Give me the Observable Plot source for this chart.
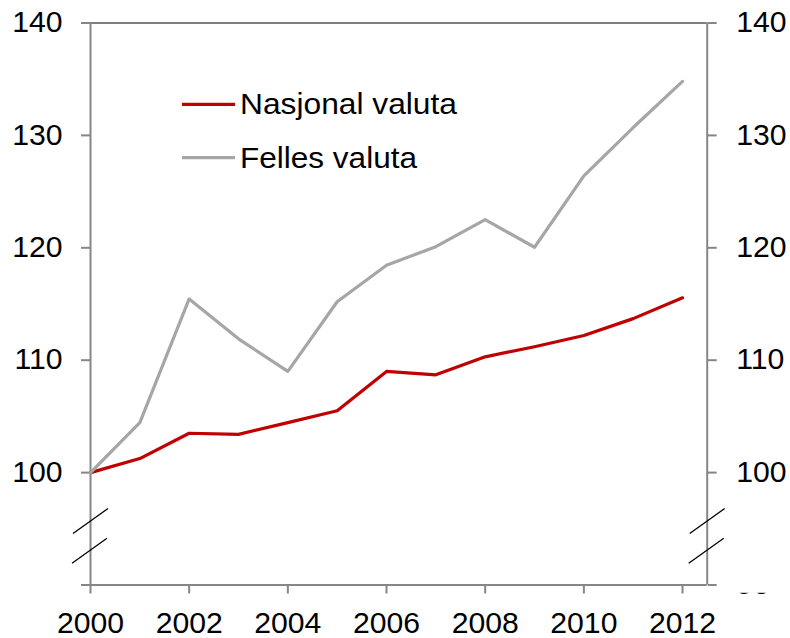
<!DOCTYPE html>
<html><head><meta charset="utf-8">
<script src="https://cdn.jsdelivr.net/npm/d3@7"></script>
<script src="https://cdn.jsdelivr.net/npm/@observablehq/plot@0.6"></script>
<style>
body{margin:0;background:#fff}
#chart svg{font-family:"Liberation Sans",Arial,sans-serif}
</style>
</head><body><div id="chart"></div>
<script>
const years = [2000,2001,2002,2003,2004,2005,2006,2007,2008,2009,2010,2011,2012];
const nasjonal = [100,101.25,103.5,103.4,104.45,105.5,109.0,108.7,110.3,111.2,112.2,113.7,115.55];
const felles = [100,104.45,115.45,111.9,109.0,115.2,118.45,120.1,122.5,120.05,126.4,130.7,134.8];
const seriesNames = ["Nasjonal valuta","Felles valuta"];
const seriesColors = ["#C00000","#A6A6A6"];
const yTicks = [90,100,110,120,130,140];
const xTicks = [2000,2002,2004,2006,2008,2010,2012];
const xDomain = [2000,2012.5];
const yDomain = [90,140];

const data = years.flatMap((yr,i)=>[
  {year:yr,value:nasjonal[i],series:seriesNames[0]},
  {year:yr,value:felles[i],series:seriesNames[1]}
]);

const axisColor = "#868686";
const fs = 29;

const plot = Plot.plot({
  width:790,height:638,
  marginLeft:90,marginRight:83.3,marginTop:22.5,marginBottom:53.5,
  style:{fontFamily:'"Liberation Sans",Arial,sans-serif',fontSize:fs+"px",background:"white",overflow:"visible"},
  x:{domain:xDomain},
  y:{domain:yDomain},
  color:{domain:seriesNames,range:seriesColors},
  marks:[
    Plot.ruleY([yDomain[1]],{stroke:"black",strokeWidth:1}),
    Plot.ruleY([yDomain[0]],{stroke:axisColor,strokeWidth:2}),
    Plot.ruleX(xDomain,{stroke:axisColor,strokeWidth:2}),
    Plot.axisY({anchor:"left",ticks:yTicks,tickSize:9,tickPadding:19,strokeWidth:2,stroke:axisColor,fill:"black",fontSize:fs,
      tickFormat:d=>d===90?"":String(d),label:null}),
    Plot.axisY({anchor:"right",ticks:yTicks,tickSize:9,tickPadding:20,strokeWidth:2,stroke:axisColor,fill:"black",fontSize:fs,
      tickFormat:d=>String(d),label:null}),
    Plot.axisX({anchor:"bottom",ticks:xTicks,tickSize:9,tickPadding:18,strokeWidth:2,stroke:axisColor,fill:"black",fontSize:fs,
      tickFormat:d=>String(d),label:null}),
    Plot.line(data,{x:"year",y:"value",z:"series",stroke:"series",strokeWidth:3.2})
  ]
});

document.getElementById("chart").appendChild(plot);

const svg = d3.select(plot);
const xs = plot.scale("x"), ys = plot.scale("y");
const xL = xs.apply(xDomain[0]), xR = xs.apply(xDomain[1]);
const yBottom = ys.apply(yDomain[0]);

// slight horizontal stretch on axis labels
svg.selectAll("g[aria-label='y-axis tick label'] text, g[aria-label='x-axis tick label'] text").each(function(){
  const len = this.getComputedTextLength();
  if (len>0){ this.setAttribute("textLength", len*1.04); this.setAttribute("lengthAdjust","spacingAndGlyphs"); }
});

// mask partly hiding right "90" label
svg.append("rect").attr("x",xR+12).attr("y",yBottom-30).attr("width",80).attr("height",38.3).attr("fill","white");

// axis break marks
[xL, xR].forEach(ax=>{
  [[95.65,0],[93.0,-1]].forEach(([v,dx])=>{
    const cy = ys.apply(v);
    svg.append("line").attr("x1",ax-17+dx).attr("y1",cy+12.5).attr("x2",ax+18+dx).attr("y2",cy-12.5)
      .attr("stroke","black").attr("stroke-width",1.3);
  });
});

// legend
const lg = svg.append("g").attr("font-family",'"Liberation Sans",Arial,sans-serif').attr("font-size",fs).attr("text-anchor","start");
const legendY = [104.3,157.7];
const legendW = [217,177];
seriesNames.forEach((name,i)=>{
  lg.append("line").attr("x1",182).attr("x2",235).attr("y1",legendY[i]).attr("y2",legendY[i])
    .attr("stroke",seriesColors[i]).attr("stroke-width",3.2);
  lg.append("text").attr("x",240).attr("y",legendY[i]+10).attr("fill","black").attr("text-anchor","start")
    .attr("textLength",legendW[i]).attr("lengthAdjust","spacingAndGlyphs").text(name);
});
</script>
</body></html>
